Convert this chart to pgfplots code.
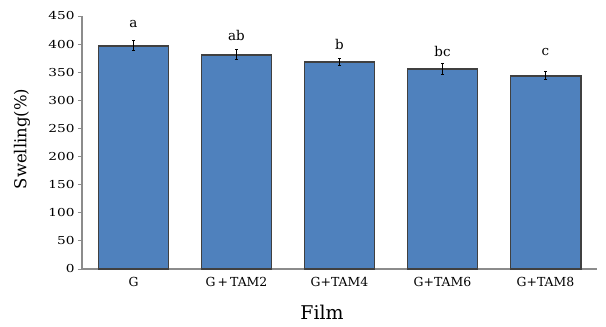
\documentclass[border=0pt]{standalone}
\usepackage{fontspec}
\setmainfont{DejaVu Serif}
\newfontfamily\tickfont[FakeStretch=1.25]{DejaVu Serif}
\usepackage{pgfplots}
\pgfplotsset{compat=1.18}
\definecolor{barblue}{HTML}{4F81BD}
\definecolor{axgray}{HTML}{8C8C8C}
\begin{document}
\begin{tikzpicture}
\begin{axis}[
  scale only axis,
  width=515bp, height=253bp,
  xmin=-0.5, xmax=4.5,
  ymin=0, ymax=450,
  ytick={0,50,...,450},
  xtick={0,1,2,3,4},
  xticklabels={G, G\,+\,TAM2, G+TAM4, G+TAM6, G+TAM8},
  extra x ticks={0.5,1.5,2.5,3.5},
  extra x tick labels={},
  extra x tick style={major tick length=3bp, tick style={axgray}},
  axis lines*=left,
  axis line style={axgray, line width=1.2pt, -},
  x axis line style={-},
  y axis line style={-},
  major x tick style={draw=none},
  ytick style={axgray, line width=0.8pt},
  tick align=outside,
  major tick length=4bp,
  yticklabel style={font=\tickfont\fontsize{11}{13}\selectfont},
  xticklabel style={font=\fontsize{12.5}{14}\selectfont, yshift=-1bp},
  /pgf/number format/assume math mode=true,
  clip=false,
]
\addplot[ybar, bar width=70bp, fill=barblue, draw=black!75, line width=2pt,
  error bars/.cd, y dir=both, y explicit, error bar style={black, line width=1.2pt}, error mark options={rotate=90, mark size=1.5bp, line width=1pt}]
  coordinates {
  (0,397) +- (0,9)
  (1,381) +- (0,9)
  (2,368) +- (0,6)
  (3,356) +- (0,10)
  (4,344) +- (0,7)
  };
\node[font=\fontsize{13.5}{15}\selectfont] at (axis cs:0,436) {a};
\node[font=\fontsize{13.5}{15}\selectfont] at (axis cs:1,416) {ab};
\node[font=\fontsize{13.5}{15}\selectfont] at (axis cs:2,399) {b};
\node[font=\fontsize{13.5}{15}\selectfont] at (axis cs:3,386) {bc};
\node[font=\fontsize{13.5}{15}\selectfont] at (axis cs:4,386) {c};
\end{axis}
\node[rotate=90, font=\fontsize{16.5}{18}\selectfont] at (-60bp,130bp) {Swelling(\%)};
\node[font=\fontsize{19}{21}\selectfont] at (240bp,-43bp) {Film};
\pgfresetboundingbox
\path (-82bp,-58bp) rectangle (524bp,269bp);
\end{tikzpicture}
\end{document}
